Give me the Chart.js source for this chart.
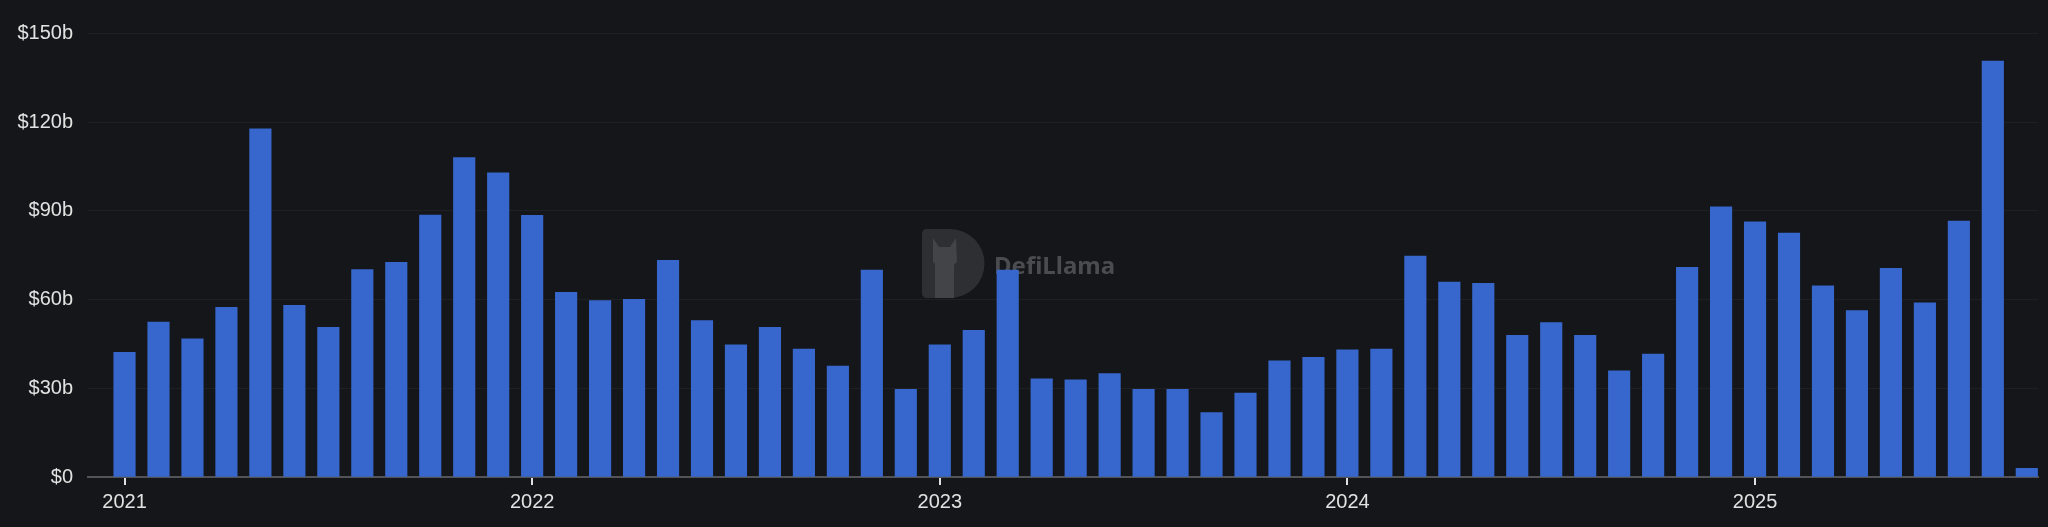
<!DOCTYPE html>
<html>
<head>
<meta charset="utf-8">
<script src="https://cdn.jsdelivr.net/npm/chart.js"></script>
<style>
  html, body { margin: 0; padding: 0; background: #151619; }
  #wrap { width: 2048px; height: 527px; }
</style>
</head>
<body>
<div id="wrap"><canvas id="volChart" width="2048" height="527"></canvas></div>
<script>
// monthly volume, $ billions (Jan 2021 .. Sep 2025)
const months = [
  '2021-01','2021-02','2021-03','2021-04','2021-05','2021-06','2021-07','2021-08','2021-09','2021-10','2021-11','2021-12',
  '2022-01','2022-02','2022-03','2022-04','2022-05','2022-06','2022-07','2022-08','2022-09','2022-10','2022-11','2022-12',
  '2023-01','2023-02','2023-03','2023-04','2023-05','2023-06','2023-07','2023-08','2023-09','2023-10','2023-11','2023-12',
  '2024-01','2024-02','2024-03','2024-04','2024-05','2024-06','2024-07','2024-08','2024-09','2024-10','2024-11','2024-12',
  '2025-01','2025-02','2025-03','2025-04','2025-05','2025-06','2025-07','2025-08','2025-09'
];
const volume = [
  42.2, 52.4, 46.7, 57.4, 117.8, 58.1, 50.6, 70.2, 72.6, 88.6, 108.1, 102.9,
  88.5, 62.5, 59.7, 60.1, 73.3, 52.9, 44.7, 50.6, 43.3, 37.5, 70.0, 29.7,
  44.7, 49.6, 70.0, 33.2, 32.9, 35.0, 29.7, 29.7, 21.8, 28.4, 39.3, 40.5,
  43.0, 43.3, 74.7, 65.9, 65.5, 47.9, 52.2, 47.9, 35.9, 41.6, 70.9, 91.4,
  86.3, 82.5, 64.7, 56.3, 70.6, 58.9, 86.6, 140.7, 2.9
];
const yearTicks = ['2021', '2022', '2023', '2024', '2025'];
const yTickLabels = ['$0', '$30b', '$60b', '$90b', '$120b', '$150b'];

const points = volume.map((v, i) => ({ x: i, y: v, m: months[i] }));

// faint DefiLlama watermark behind the bars
const watermark = {
  id: 'watermark',
  beforeDatasetsDraw(chart) {
    const c = chart.ctx;
    c.save();
    // D shaped logo
    c.fillStyle = '#2e2f32';
    c.beginPath();
    c.moveTo(927, 229);
    c.lineTo(950, 229);
    c.arc(950, 263.5, 34.5, -Math.PI / 2, Math.PI / 2);
    c.lineTo(927, 298);
    c.quadraticCurveTo(922, 298, 922, 293);
    c.lineTo(922, 234);
    c.quadraticCurveTo(922, 229, 927, 229);
    c.fill();
    // llama head and neck
    c.fillStyle = '#434447';
    c.beginPath();
    c.moveTo(933, 238);
    c.lineTo(939, 247);
    c.lineTo(950, 247);
    c.lineTo(956, 238);
    c.lineTo(957, 262);
    c.quadraticCurveTo(945, 274, 933, 262);
    c.closePath();
    c.fill();
    c.fillRect(935, 262, 19, 36);
    c.font = 'bold 24px "Noto Sans", sans-serif';
    c.fillStyle = '#4b4c4f';
    c.textBaseline = 'alphabetic';
    c.fillText('DefiLlama', 994, 274);
    c.restore();
  }
};

new Chart(document.getElementById('volChart').getContext('2d'), {
  type: 'bar',
  data: {
    datasets: [{
      label: 'Volume',
      data: points,
      backgroundColor: '#3767cc',
      borderWidth: 0,
      barThickness: 21.5
    }]
  },
  options: {
    responsive: false,
    animation: false,
    layout: { padding: { left: 0, right: 10, top: 33.6, bottom: 8 } },
    plugins: { legend: { display: false }, tooltip: { enabled: false } },
    scales: {
      x: {
        type: 'linear',
        offset: false,
        min: -1.09,
        max: 56.33,
        afterBuildTicks(scale) {
          scale.ticks = yearTicks.map((t, i) => ({ value: i * 12 }));
        },
        grid: { offset: false, drawOnChartArea: false, drawTicks: true, tickLength: 8, color: '#e0e0e0', lineWidth: 2 },
        border: { display: true, color: '#515357', width: 2 },
        ticks: {
          color: '#e2e2e2',
          font: { family: '"Liberation Sans", Arial, sans-serif', size: 20 },
          padding: 5,
          maxRotation: 0,
          autoSkip: false,
          callback: (v) => yearTicks[Math.round(v / 12)]
        }
      },
      y: {
        min: 0,
        max: 150,
        afterBuildTicks(scale) {
          scale.ticks = yTickLabels.map((t, i) => ({ value: i * 30 }));
        },
        afterFit(scale) { scale.width = 87.5; },
        grid: { color: '#1f2023', lineWidth: 1, drawTicks: false },
        border: { display: false },
        ticks: {
          color: '#e2e2e2',
          font: { family: '"Liberation Sans", Arial, sans-serif', size: 20 },
          padding: 14.5,
          callback: (v) => yTickLabels[Math.round(v / 30)]
        }
      }
    }
  },
  plugins: [watermark]
});
</script>
</body>
</html>
